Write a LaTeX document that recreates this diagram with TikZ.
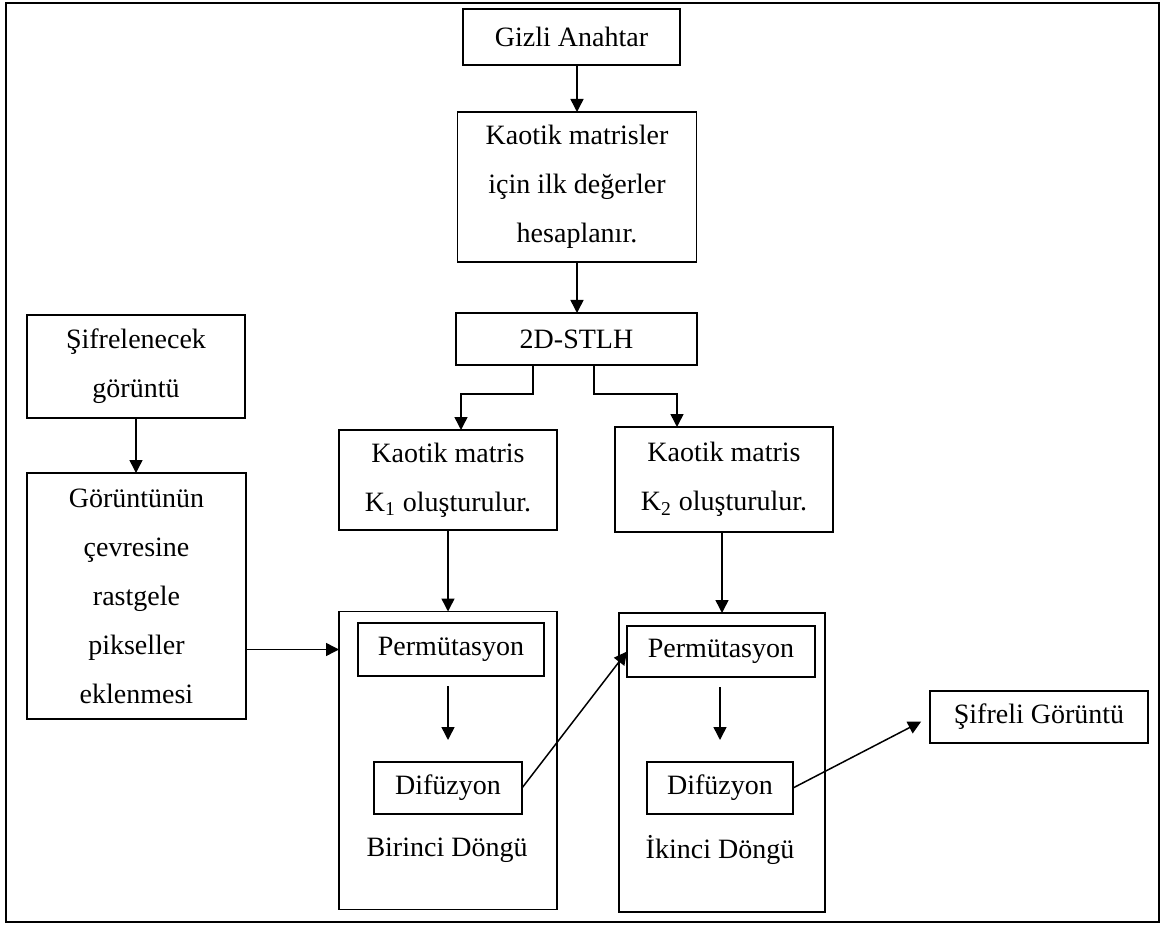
\documentclass[tikz,border=0pt]{standalone}
\usepackage{fontspec}
\setmainfont{Liberation Serif}
\usetikzlibrary{arrows.meta}

\begin{document}
\begin{tikzpicture}[x=0.5pt,y=-0.5pt,line width=0.75pt,
  box/.style={draw,align=center,inner sep=0pt,outer sep=0pt,font=\fontsize{14}{24.5}\selectfont},
  lbl/.style={inner sep=0pt,font=\fontsize{14}{24.5}\selectfont},
  arr/.style={-{Triangle[length=6.5pt,width=6.5pt]}}]
  \useasboundingbox (0,0) rectangle (1162,925);
  \draw[line width=1.3pt] (6,3) rectangle (1159,922);

  \node[box,minimum width=108.5pt,minimum height=28pt] (key) at (571.5,37) {Gizli Anahtar};
  \node[box,minimum width=119.5pt,minimum height=75pt] (init) at (577,187) {Kaotik matrisler\\için ilk değerler\\hesaplanır.};
  \node[box,minimum width=120.5pt,minimum height=26pt] (map) at (576.5,339) {2D-STLH};

  \node[box,minimum width=109pt,minimum height=51.5pt] (img) at (136,366.5) {Şifrelenecek\\görüntü};
  \node[box,minimum width=109.5pt,minimum height=123pt] (pad) at (136.5,596) {Görüntünün\\çevresine\\rastgele\\pikseller\\eklenmesi};

  \node[box,minimum width=109pt,minimum height=50pt] (k1) at (448,480) {Kaotik matris\\K\textsubscript{1} oluşturulur.};
  \node[box,minimum width=109pt,minimum height=52.5pt] (k2) at (724,479.5) {Kaotik matris\\K\textsubscript{2} oluşturulur.};

  \node[box,minimum width=109pt,minimum height=149pt] (loop1) at (448,760.5) {};
  \node[box,minimum width=93pt,minimum height=26.5pt] (perm1) at (451,649.5) {Permütasyon};
  \node[box,minimum width=74pt,minimum height=26pt] (dif1) at (448,788) {Difüzyon};
  \node[lbl] (lbl1) at (447,850) {Birinci Döngü};

  \node[box,minimum width=103pt,minimum height=149.5pt] (loop2) at (722,762.5) {};
  \node[box,minimum width=94pt,minimum height=25.5pt] (perm2) at (721,651.5) {Permütasyon};
  \node[box,minimum width=73pt,minimum height=26pt] (dif2) at (720,788) {Difüzyon};
  \node[lbl] (lbl2) at (720,850) {İkinci Döngü};

  \node[box,minimum width=109pt,minimum height=26pt] (out) at (1039,717) {Şifreli Görüntü};

  \coordinate (s1) at (533,394);
  \coordinate (s2) at (594,394);

  \draw[arr] (init.north |- key.south) -- (init.north);
  \draw[arr] (init.south) -- (init.south |- map.north);
  \draw[arr] (s1 |- map.south) -- (s1) -| ([xshift=6.5pt]k1.north);
  \draw[arr] (s2 |- map.south) -- (s2) -| ([xshift=-23.5pt]k2.north);
  \draw[arr] (k1.south) -- (loop1.north);
  \draw[arr] (loop2.north |- k2.south) -- (loop2.north);

  \draw[arr] (img.south) -- (img.south |- pad.north);
  \draw[arr] (pad.east |- perm1) -- (loop1.west |- perm1);

  \draw[arr,shorten <=5pt,shorten >=11pt] (perm1.south -| dif1) -- (dif1.north);
  \draw[arr,shorten <=5pt,shorten >=11pt] (perm2.south -| dif2) -- (dif2.north);
  \draw[arr] (dif1.east) -- (perm2.west);
  \draw[arr,shorten >=5pt] (dif2.east) -- (out.west);
\end{tikzpicture}
\end{document}
